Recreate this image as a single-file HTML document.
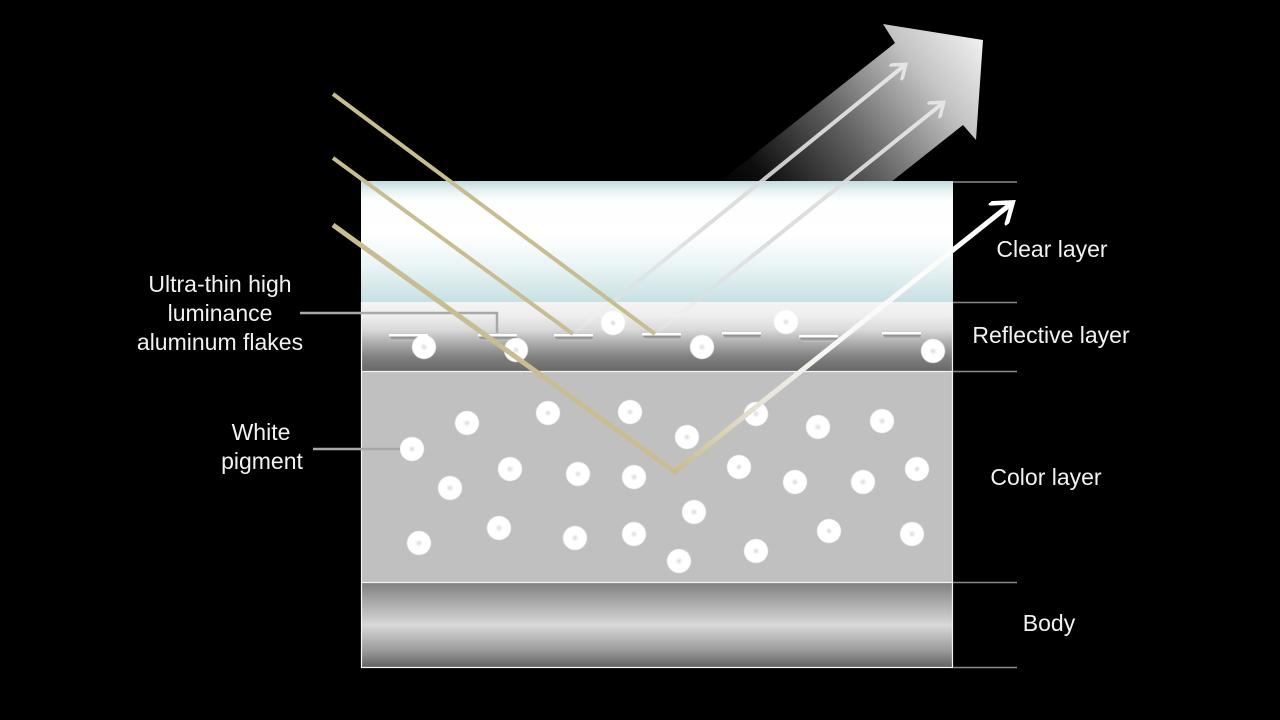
<!DOCTYPE html>
<html><head><meta charset="utf-8"><style>html,body{margin:0;padding:0;background:#000;}svg{display:block;}</style></head>
<body>
<svg width="1280" height="720" viewBox="0 0 1280 720" xmlns="http://www.w3.org/2000/svg">
<defs>
  <linearGradient id="bigArrow" gradientUnits="userSpaceOnUse" x1="983" y1="40" x2="745" y2="228">
    <stop offset="0" stop-color="#f0f0f0"/>
    <stop offset="0.22" stop-color="#c4c4c4"/>
    <stop offset="0.55" stop-color="#5e5e5e"/>
    <stop offset="0.85" stop-color="#0e0e0e"/>
    <stop offset="1" stop-color="#000"/>
  </linearGradient>
  <linearGradient id="clear" x1="0" y1="0" x2="0" y2="1">
    <stop offset="0" stop-color="#c2dcdf"/>
    <stop offset="0.08" stop-color="#e6f1f2"/>
    <stop offset="0.16" stop-color="#fdfefe"/>
    <stop offset="0.45" stop-color="#ffffff"/>
    <stop offset="0.7" stop-color="#eaf4f5"/>
    <stop offset="0.9" stop-color="#d3e7e9"/>
    <stop offset="1" stop-color="#c8e0e2"/>
  </linearGradient>
  <linearGradient id="refl" x1="0" y1="0" x2="0" y2="1">
    <stop offset="0" stop-color="#f4f4f4"/>
    <stop offset="0.2" stop-color="#eeeeee"/>
    <stop offset="0.4" stop-color="#dadada"/>
    <stop offset="0.6" stop-color="#ababab"/>
    <stop offset="0.8" stop-color="#808080"/>
    <stop offset="1" stop-color="#686868"/>
  </linearGradient>
  <linearGradient id="body" x1="0" y1="0" x2="0" y2="1">
    <stop offset="0" stop-color="#7e7e7e"/>
    <stop offset="0.15" stop-color="#9a9a9a"/>
    <stop offset="0.5" stop-color="#d8d8d8"/>
    <stop offset="0.8" stop-color="#9a9a9a"/>
    <stop offset="1" stop-color="#5e5e5e"/>
  </linearGradient>
  <radialGradient id="dot" cx="0.5" cy="0.5" r="0.5">
    <stop offset="0" stop-color="#d6d6d6"/>
    <stop offset="0.14" stop-color="#ececec"/>
    <stop offset="0.3" stop-color="#ffffff"/>
    <stop offset="0.9" stop-color="#ffffff"/>
    <stop offset="1" stop-color="#ffffff" stop-opacity="0"/>
  </radialGradient>
  <linearGradient id="flakeUnder" x1="0" y1="0" x2="0" y2="1">
    <stop offset="0" stop-color="#848484"/>
    <stop offset="1" stop-color="#c6c6c6"/>
  </linearGradient>
  <linearGradient id="rayA" gradientUnits="userSpaceOnUse" x1="573" y1="334" x2="905" y2="65">
    <stop offset="0" stop-color="#ffffff" stop-opacity="0.1"/>
    <stop offset="0.15" stop-color="#e0e0e0" stop-opacity="0.45"/>
    <stop offset="0.4" stop-color="#d6d6d6" stop-opacity="0.85"/>
    <stop offset="1" stop-color="#e6e6e6" stop-opacity="1"/>
  </linearGradient>
  <linearGradient id="rayB" gradientUnits="userSpaceOnUse" x1="655" y1="334" x2="943" y2="103">
    <stop offset="0" stop-color="#ffffff" stop-opacity="0.1"/>
    <stop offset="0.15" stop-color="#e0e0e0" stop-opacity="0.45"/>
    <stop offset="0.4" stop-color="#d6d6d6" stop-opacity="0.85"/>
    <stop offset="1" stop-color="#e6e6e6" stop-opacity="1"/>
  </linearGradient>
  <linearGradient id="rayMain" gradientUnits="userSpaceOnUse" x1="675" y1="472" x2="1012" y2="203">
    <stop offset="0" stop-color="#c8bb8c"/>
    <stop offset="0.25" stop-color="#e6e3d6"/>
    <stop offset="0.45" stop-color="#f8f8f6"/>
    <stop offset="1" stop-color="#ffffff"/>
  </linearGradient>
  <marker id="ah" viewBox="0 0 20 20" refX="15" refY="10" markerWidth="20" markerHeight="20" markerUnits="userSpaceOnUse" orient="auto">
    <path d="M4,1 L16,10 L4,19" fill="none" stroke="#e4e4e4" stroke-width="3.5" stroke-linecap="round"/>
  </marker>
  <marker id="ahMain" viewBox="0 0 28 28" refX="22" refY="14" markerWidth="28" markerHeight="28" markerUnits="userSpaceOnUse" orient="auto">
    <path d="M5,1 L23,14 L5,27" fill="none" stroke="#ffffff" stroke-width="4.5" stroke-linecap="round"/>
  </marker>
</defs>

<rect width="1280" height="720" fill="#000"/>

<!-- big arrow -->
<polygon points="660,229 895,43 883,24 983,40 976,140 963,125 728,311" fill="url(#bigArrow)"/>

<!-- layers -->
<rect x="361" y="181" width="592" height="121" fill="url(#clear)"/>
<rect x="361" y="302" width="592" height="69" fill="url(#refl)"/>
<rect x="361" y="371" width="592" height="211" fill="#c0c0c0"/>
<rect x="361" y="582" width="592" height="86" fill="url(#body)"/>
<g stroke="#f4f4f4" stroke-width="1.2" fill="none">
  <line x1="361" y1="371.5" x2="953" y2="371.5"/>
  <line x1="361" y1="582.5" x2="953" y2="582.5"/>
  <line x1="361" y1="667.5" x2="953" y2="667.5"/>
  <line x1="361.5" y1="302" x2="361.5" y2="668"/>
  <line x1="952.5" y1="302" x2="952.5" y2="668"/>
</g>

<!-- right separator lines -->
<g stroke="#8a8a8a" stroke-width="1.5">
  <line x1="953" y1="182" x2="1017" y2="182"/>
  <line x1="953" y1="302.5" x2="1017" y2="302.5"/>
  <line x1="953" y1="371.5" x2="1017" y2="371.5"/>
  <line x1="953" y1="582.5" x2="1017" y2="582.5"/>
  <line x1="953" y1="667.5" x2="1017" y2="667.5"/>
</g>

<!-- flakes -->
<g>
  <g transform="translate(389,334)"><rect x="0" y="0" width="39" height="2.6" fill="#fdfdfd"/><polygon points="0.5,2.6 39,2.6 38,7 4,7" fill="url(#flakeUnder)"/></g>
  <g transform="translate(478,334)"><rect x="0" y="0" width="39" height="2.6" fill="#fdfdfd"/><polygon points="0.5,2.6 39,2.6 38,7 4,7" fill="url(#flakeUnder)"/></g>
  <g transform="translate(554,334)"><rect x="0" y="0" width="39" height="2.6" fill="#fdfdfd"/><polygon points="0.5,2.6 39,2.6 38,7 4,7" fill="url(#flakeUnder)"/></g>
  <g transform="translate(642,333)"><rect x="0" y="0" width="39" height="2.6" fill="#fdfdfd"/><polygon points="0.5,2.6 39,2.6 38,7 4,7" fill="url(#flakeUnder)"/></g>
  <g transform="translate(722,332)"><rect x="0" y="0" width="39" height="2.6" fill="#fdfdfd"/><polygon points="0.5,2.6 39,2.6 38,7 4,7" fill="url(#flakeUnder)"/></g>
  <g transform="translate(799,335)"><rect x="0" y="0" width="39" height="2.6" fill="#fdfdfd"/><polygon points="0.5,2.6 39,2.6 38,7 4,7" fill="url(#flakeUnder)"/></g>
  <g transform="translate(882,332)"><rect x="0" y="0" width="39" height="2.6" fill="#fdfdfd"/><polygon points="0.5,2.6 39,2.6 38,7 4,7" fill="url(#flakeUnder)"/></g>
</g>

<!-- dots -->
<g fill="url(#dot)">
  <circle cx="424" cy="347" r="12.6"/>
  <circle cx="516" cy="350" r="12.6"/>
  <circle cx="613" cy="323" r="12.6"/>
  <circle cx="702" cy="347" r="12.6"/>
  <circle cx="786" cy="322" r="12.6"/>
  <circle cx="933" cy="351" r="12.6"/>

  <circle cx="412" cy="449" r="12.6"/>
  <circle cx="467" cy="423" r="12.6"/>
  <circle cx="548" cy="413" r="12.6"/>
  <circle cx="630" cy="412" r="12.6"/>
  <circle cx="510" cy="469" r="12.6"/>
  <circle cx="450" cy="488" r="12.6"/>
  <circle cx="578" cy="474" r="12.6"/>
  <circle cx="634" cy="477" r="12.6"/>
  <circle cx="419" cy="543" r="12.6"/>
  <circle cx="499" cy="528" r="12.6"/>
  <circle cx="575" cy="538" r="12.6"/>
  <circle cx="634" cy="534" r="12.6"/>
  <circle cx="687" cy="437" r="12.6"/>
  <circle cx="756" cy="414" r="12.6"/>
  <circle cx="818" cy="427" r="12.6"/>
  <circle cx="882" cy="421" r="12.6"/>
  <circle cx="739" cy="467" r="12.6"/>
  <circle cx="795" cy="482" r="12.6"/>
  <circle cx="863" cy="482" r="12.6"/>
  <circle cx="917" cy="469" r="12.6"/>
  <circle cx="694" cy="512" r="12.6"/>
  <circle cx="829" cy="531" r="12.6"/>
  <circle cx="912" cy="534" r="12.6"/>
  <circle cx="679" cy="561" r="12.6"/>
  <circle cx="756" cy="551" r="12.6"/>
</g>

<!-- leader lines -->
<polyline points="300,313 497,313 497,333" fill="none" stroke="#a8a8a8" stroke-width="2.5"/>
<line x1="313" y1="449" x2="400" y2="449" stroke="#a8a8a8" stroke-width="2.5"/>

<!-- reflected rays from flakes -->
<line x1="573" y1="334" x2="905" y2="65" stroke="url(#rayA)" stroke-width="4" marker-end="url(#ah)"/>
<line x1="655" y1="334" x2="943" y2="103" stroke="url(#rayB)" stroke-width="4" marker-end="url(#ah)"/>

<!-- incident rays -->
<g stroke="#c8bd92" fill="none">
  <line x1="333" y1="94" x2="655" y2="334" stroke-width="4"/>
  <line x1="333" y1="158" x2="573" y2="334" stroke-width="4"/>
  <line x1="333" y1="225" x2="675" y2="472" stroke-width="5"/>
</g>

<!-- main reflected ray -->
<line x1="673" y1="473" x2="1012" y2="203" stroke="url(#rayMain)" stroke-width="5" marker-end="url(#ahMain)"/>

<!-- labels -->
<g font-family="'Liberation Sans', sans-serif" font-size="23" fill="#f2f2f2" text-anchor="middle">
  <text x="220" y="292">Ultra-thin high</text>
  <text x="220" y="321">luminance</text>
  <text x="220" y="350">aluminum flakes</text>
  <text x="261" y="440">White</text>
  <text x="262" y="469">pigment</text>
  <text x="1052" y="257">Clear layer</text>
  <text x="1051" y="343">Reflective layer</text>
  <text x="1046" y="485">Color layer</text>
  <text x="1049" y="631">Body</text>
</g>
</svg>
</body></html>
